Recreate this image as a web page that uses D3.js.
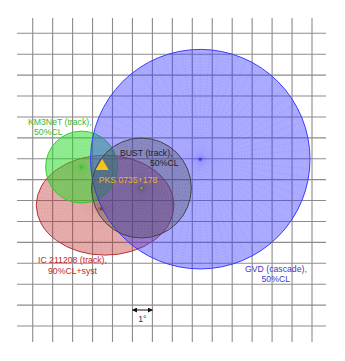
<!DOCTYPE html>
<html lang="en">
<head>
<meta charset="utf-8">
<title>PKS 0735+178 neutrino error regions</title>
<script src="https://cdn.jsdelivr.net/npm/d3@7"></script>
<style>
  body { margin: 0; background: #fff; }
  text { font-family: "Liberation Sans", Arial, sans-serif; font-size: 8.7px; }
</style>
</head>
<body>
<div id="chart"></div>
<script>
// grid in degrees
var gridX = d3.range(0, 15);
var gridY = d3.range(0, 15);

// error regions (degrees on the grid): centre, radii, best-fit point
var regionNames = ['IC 211208', 'KM3NeT', 'GVD', 'BUST'];
var regionCx = [3.63, 2.45, 8.4, 5.45];
var regionCy = [8.22, 6.4, 6.02, 7.4];
var regionRx = [3.45, 1.8, 5.5, 2.5];
var regionRy = [2.39, 1.72, 5.25, 2.39];
var bestX = [3.43, 2.45, 8.4, 5.45];
var bestY = [8.39, 6.4, 6.02, 7.4];

var labelLines = [
  ['IC 211208 (track),', '90%CL+syst'],
  ['KM3NeT (track),', '50%CL'],
  ['GVD (cascade),', '50%CL'],
  ['BUST (track),', '50%CL']
];

var source = { name: 'PKS 0735+178', x: 3.48, y: 6.31 };

var width = 345, height = 361;
var colors = ['#b83232', '#2ecc2e', '#3a3aff', '#444444'];
var fills = ['rgba(190,45,45,0.38)', 'rgba(40,220,40,0.5)', 'rgba(60,60,255,0.42)', 'rgba(70,70,70,0.3)'];
var textColors = ['#c0282a', '#33bb33', '#3a3ad0', '#222222'];

var x = d3.scaleLinear().domain([0, 14]).range([32.7, 312]);
var y = d3.scaleLinear().domain([0, 14]).range([33.3, 326]);

var svg = d3.select('#chart').append('svg')
  .attr('width', width)
  .attr('height', height);

// grid
svg.append('g').selectAll('line.h')
  .data(gridY).enter().append('line')
  .attr('x1', 17).attr('x2', 326)
  .attr('y1', function(d) { return y(d); })
  .attr('y2', function(d) { return y(d); })
  .attr('stroke', '#8c8c8c').attr('stroke-width', 1.1);
svg.append('g').selectAll('line.v')
  .data(gridX).enter().append('line')
  .attr('y1', 18).attr('y2', 342)
  .attr('x1', function(d) { return x(d); })
  .attr('x2', function(d) { return x(d); })
  .attr('stroke', '#8c8c8c').attr('stroke-width', 1.1);

var defs = svg.append('defs');
var order = [0, 1, 2, 3];

order.forEach(function(i) {
  var cx = x(regionCx[i]), cy = y(regionCy[i]);
  var rx = x(regionRx[i]) - x(0), ry = y(regionRy[i]) - y(0);
  var g = svg.append('g');

  defs.append('clipPath').attr('id', 'clip' + i)
    .append('ellipse').attr('cx', cx).attr('cy', cy).attr('rx', rx).attr('ry', ry);

  g.append('ellipse')
    .attr('cx', cx).attr('cy', cy).attr('rx', rx).attr('ry', ry)
    .attr('fill', fills[i]);

  // polar mesh
  var mesh = g.append('g').attr('clip-path', 'url(#clip' + i + ')')
    .attr('stroke', colors[i]).attr('stroke-opacity', 0.1)
    .attr('stroke-width', 0.5).attr('fill', 'none');
  var bx = x(bestX[i]), by = y(bestY[i]);
  var nr = Math.round(rx / 3);
  d3.range(1, nr + 1).forEach(function(k) {
    mesh.append('ellipse').attr('cx', bx).attr('cy', by)
      .attr('rx', rx * k / nr).attr('ry', ry * k / nr);
  });
  d3.range(0, 360, 5).forEach(function(a) {
    var t = a * Math.PI / 180;
    mesh.append('line').attr('x1', bx).attr('y1', by)
      .attr('x2', bx + Math.cos(t) * rx * 2).attr('y2', by + Math.sin(t) * ry * 2);
  });

  g.append('ellipse')
    .attr('cx', cx).attr('cy', cy).attr('rx', rx).attr('ry', ry)
    .attr('fill', 'none').attr('stroke', colors[i]).attr('stroke-width', 1);

  g.append('circle').attr('cx', bx).attr('cy', by).attr('r', 1.5)
    .attr('fill', i === 3 ? '#889966' : colors[i]);
});

// source triangle
var sx = x(source.x), sy = y(source.y);
svg.append('path')
  .attr('d', d3.symbol().type(d3.symbolTriangle).size(75)())
  .attr('transform', 'translate(' + sx + ',' + (sy + 1) + ')')
  .attr('fill', '#f5c518');

svg.append('text').attr('x', sx - 3.5).attr('y', sy + 18)
  .attr('fill', '#e8b820').text(source.name);

// labels
var labelPos = [
  [[38, 263], [48, 273.5]],
  [[28, 124.5], [34, 135]],
  [[245, 271.5], [261.5, 282]],
  [[120, 155.5], [150, 166]]
];
labelLines.forEach(function(lines, i) {
  lines.forEach(function(t, j) {
    svg.append('text')
      .attr('x', labelPos[i][j][0]).attr('y', labelPos[i][j][1])
      .attr('fill', textColors[i]).text(t);
  });
});

// scale arrow 1 degree
defs.append('marker').attr('id', 'ah').attr('viewBox', '0 0 10 10')
  .attr('refX', 9).attr('refY', 5).attr('markerWidth', 5).attr('markerHeight', 5)
  .attr('orient', 'auto-start-reverse')
  .append('path').attr('d', 'M0,0L10,5L0,10z').attr('fill', '#111');
svg.append('line')
  .attr('x1', x(5)).attr('x2', x(6)).attr('y1', 310).attr('y2', 310)
  .attr('stroke', '#111').attr('stroke-width', 1)
  .attr('marker-start', 'url(#ah)').attr('marker-end', 'url(#ah)');
svg.append('text').attr('x', x(5.5)).attr('y', 322).attr('text-anchor', 'middle')
  .attr('fill', '#333').text('1°');
</script>
</body>
</html>
